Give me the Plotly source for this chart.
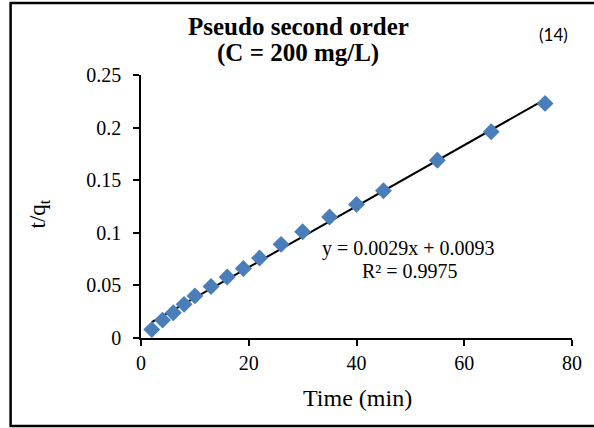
import plotly.graph_objects as go

# Data
time_min = [2, 4, 6, 8, 10, 13, 16, 19, 22, 26, 30, 35, 40, 45, 55, 65, 75]
t_over_qt = [0.008, 0.017, 0.024, 0.032, 0.040, 0.049, 0.058, 0.066, 0.076,
             0.089, 0.101, 0.115, 0.127, 0.140, 0.169, 0.196, 0.223]
slope = 0.0029
intercept = 0.0093
x_ticks = [0, 20, 40, 60, 80]
y_ticks = [0, 0.05, 0.1, 0.15, 0.2, 0.25]
y_tick_text = ["0", "0.05", "0.1", "0.15", "0.2", "0.25"]

W, H = 594, 428
L, R, T, B = 141, 20, 75, 90
pw, ph = W - L - R, H - T - B


def px(xp):
    return (xp - L) / pw


def py(yp):
    return (H - B - yp) / ph


fit_x = [min(time_min), max(time_min)]
fit_y = [slope * v + intercept for v in fit_x]

serif = "Liberation Serif"

fig = go.Figure()
fig.add_trace(go.Scatter(x=fit_x, y=fit_y, mode="lines",
                         line=dict(color="black", width=2), hoverinfo="skip"))
fig.add_trace(go.Scatter(x=time_min, y=t_over_qt, mode="markers",
                         marker=dict(symbol="diamond", size=13, color="#4a7ebb",
                                     line=dict(width=0))))

fig.update_layout(
    width=W, height=H, margin=dict(l=L, r=R, t=T, b=B),
    paper_bgcolor="white", plot_bgcolor="white", showlegend=False,
    font=dict(family=serif, size=19, color="black"),
)
fig.update_xaxes(range=[0, 80], tickvals=x_ticks, showgrid=False, zeroline=False,
                 showline=True, linecolor="black", linewidth=1.5,
                 ticks="outside", ticklen=6, tickwidth=1.5, tickcolor="black",
                 tickfont=dict(family=serif, size=20))
fig.update_yaxes(range=[0, 0.25], tickvals=y_ticks, ticktext=y_tick_text,
                 showgrid=False, zeroline=False,
                 showline=True, linecolor="black", linewidth=1.5,
                 ticks="outside", ticklen=6, tickwidth=1.5, tickcolor="black",
                 ticklabelstandoff=8,
                 tickfont=dict(family=serif, size=20))

ann = [
    dict(text="<b>Pseudo second order</b>", x=px(299), y=py(26), size=25, family=serif),
    dict(text="<b>(C = 200 mg/L)</b>", x=px(299), y=py(53), size=25, family=serif),
    dict(text="(14)", x=px(555), y=py(34), size=17, family="Lato"),
    dict(text="Time (min)", x=px(359), y=py(398), size=24, family=serif),
    dict(text="y = 0.0029x + 0.0093", x=px(410), y=py(248), size=20, family=serif),
    dict(text="R² = 0.9975", x=px(411), y=py(271), size=20, family=serif),
]
for a in ann:
    fig.add_annotation(text=a["text"], xref="paper", yref="paper", x=a["x"], y=a["y"],
                       xanchor="center", yanchor="middle", showarrow=False,
                       font=dict(family=a["family"], size=a["size"], color="black"))

fig.add_annotation(text="t/q<sub>t</sub>", xref="paper", yref="paper",
                   x=px(39), y=py(214), xanchor="center", yanchor="middle",
                   textangle=-90, showarrow=False,
                   font=dict(family=serif, size=23, color="black"))

# outer frame
fig.add_shape(type="rect", xref="paper", yref="paper",
              x0=px(10), x1=px(600), y0=py(426), y1=py(3),
              line=dict(color="black", width=2.5), fillcolor="rgba(0,0,0,0)")

fig.write_html("out.html")
